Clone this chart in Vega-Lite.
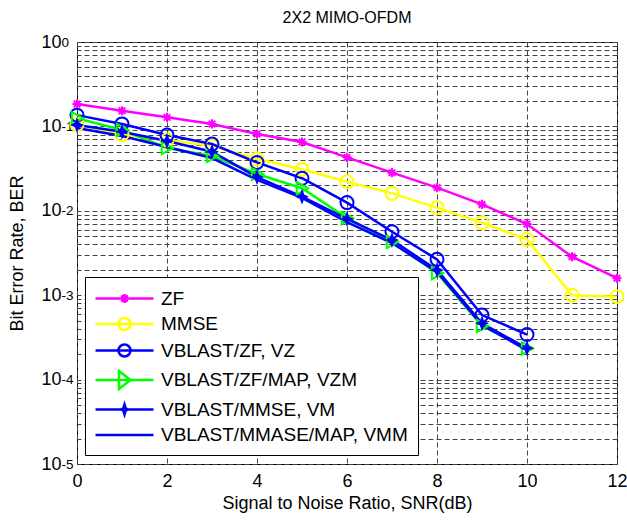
{
  "$schema": "https://vega.github.io/schema/vega-lite/v6.json",
  "width": 540,
  "height": 422,
  "autosize": "none",
  "padding": {"left": 77, "top": 42, "right": 10, "bottom": 57},
  "background": "white",
  "config": {
    "font": "Liberation Sans",
    "view": {"stroke": "black", "strokeWidth": 1},
    "axis": {"labelColor": "black", "titleColor": "black"}
  },
  "title": {"text": "2X2 MIMO-OFDM", "fontSize": 16, "fontWeight": "normal", "offset": 7, "anchor": "middle", "color": "black"},
  "data": {"values": [
    {"snr": 0, "ber": 0.184, "series": "ZF"},
    {"snr": 1, "ber": 0.153, "series": "ZF"},
    {"snr": 2, "ber": 0.128, "series": "ZF"},
    {"snr": 3, "ber": 0.107, "series": "ZF"},
    {"snr": 4, "ber": 0.0813, "series": "ZF"},
    {"snr": 5, "ber": 0.0653, "series": "ZF"},
    {"snr": 6, "ber": 0.043, "series": "ZF"},
    {"snr": 7, "ber": 0.0283, "series": "ZF"},
    {"snr": 8, "ber": 0.0188, "series": "ZF"},
    {"snr": 9, "ber": 0.0119, "series": "ZF"},
    {"snr": 10, "ber": 0.00698, "series": "ZF"},
    {"snr": 11, "ber": 0.00286, "series": "ZF"},
    {"snr": 12, "ber": 0.00159, "series": "ZF"},
    {"snr": 0, "ber": 0.105, "series": "MMSE"},
    {"snr": 1, "ber": 0.08, "series": "MMSE"},
    {"snr": 2, "ber": 0.069, "series": "MMSE"},
    {"snr": 3, "ber": 0.0586, "series": "MMSE"},
    {"snr": 4, "ber": 0.0411, "series": "MMSE"},
    {"snr": 5, "ber": 0.031, "series": "MMSE"},
    {"snr": 6, "ber": 0.0221, "series": "MMSE"},
    {"snr": 7, "ber": 0.0161, "series": "MMSE"},
    {"snr": 8, "ber": 0.0109, "series": "MMSE"},
    {"snr": 9, "ber": 0.00723, "series": "MMSE"},
    {"snr": 10, "ber": 0.00459, "series": "MMSE"},
    {"snr": 11, "ber": 0.001, "series": "MMSE"},
    {"snr": 12, "ber": 0.00096, "series": "MMSE"},
    {"snr": 0, "ber": 0.136, "series": "VBLAST/ZF, VZ"},
    {"snr": 1, "ber": 0.107, "series": "VBLAST/ZF, VZ"},
    {"snr": 2, "ber": 0.079, "series": "VBLAST/ZF, VZ"},
    {"snr": 3, "ber": 0.0618, "series": "VBLAST/ZF, VZ"},
    {"snr": 4, "ber": 0.0374, "series": "VBLAST/ZF, VZ"},
    {"snr": 5, "ber": 0.0243, "series": "VBLAST/ZF, VZ"},
    {"snr": 6, "ber": 0.0125, "series": "VBLAST/ZF, VZ"},
    {"snr": 7, "ber": 0.00565, "series": "VBLAST/ZF, VZ"},
    {"snr": 8, "ber": 0.00266, "series": "VBLAST/ZF, VZ"},
    {"snr": 9, "ber": 0.000582, "series": "VBLAST/ZF, VZ"},
    {"snr": 10, "ber": 0.000342, "series": "VBLAST/ZF, VZ"},
    {"snr": 0, "ber": 0.125, "series": "VBLAST/ZF/MAP, VZM"},
    {"snr": 1, "ber": 0.0906, "series": "VBLAST/ZF/MAP, VZM"},
    {"snr": 2, "ber": 0.0555, "series": "VBLAST/ZF/MAP, VZM"},
    {"snr": 3, "ber": 0.0446, "series": "VBLAST/ZF/MAP, VZM"},
    {"snr": 4, "ber": 0.0273, "series": "VBLAST/ZF/MAP, VZM"},
    {"snr": 5, "ber": 0.0185, "series": "VBLAST/ZF/MAP, VZM"},
    {"snr": 6, "ber": 0.0082, "series": "VBLAST/ZF/MAP, VZM"},
    {"snr": 7, "ber": 0.00427, "series": "VBLAST/ZF/MAP, VZM"},
    {"snr": 8, "ber": 0.00183, "series": "VBLAST/ZF/MAP, VZM"},
    {"snr": 9, "ber": 0.000432, "series": "VBLAST/ZF/MAP, VZM"},
    {"snr": 10, "ber": 0.000235, "series": "VBLAST/ZF/MAP, VZM"},
    {"snr": 0, "ber": 0.104, "series": "VBLAST/MMSE, VM"},
    {"snr": 1, "ber": 0.0865, "series": "VBLAST/MMSE, VM"},
    {"snr": 2, "ber": 0.0671, "series": "VBLAST/MMSE, VM"},
    {"snr": 3, "ber": 0.0501, "series": "VBLAST/MMSE, VM"},
    {"snr": 4, "ber": 0.0251, "series": "VBLAST/MMSE, VM"},
    {"snr": 5, "ber": 0.0147, "series": "VBLAST/MMSE, VM"},
    {"snr": 6, "ber": 0.008, "series": "VBLAST/MMSE, VM"},
    {"snr": 7, "ber": 0.00451, "series": "VBLAST/MMSE, VM"},
    {"snr": 8, "ber": 0.00199, "series": "VBLAST/MMSE, VM"},
    {"snr": 9, "ber": 0.000465, "series": "VBLAST/MMSE, VM"},
    {"snr": 10, "ber": 0.000235, "series": "VBLAST/MMSE, VM"},
    {"snr": 0, "ber": 0.0957, "series": "VBLAST/MMASE/MAP, VMM"},
    {"snr": 1, "ber": 0.077, "series": "VBLAST/MMASE/MAP, VMM"},
    {"snr": 2, "ber": 0.057, "series": "VBLAST/MMASE/MAP, VMM"},
    {"snr": 3, "ber": 0.0422, "series": "VBLAST/MMASE/MAP, VMM"},
    {"snr": 4, "ber": 0.0232, "series": "VBLAST/MMASE/MAP, VMM"},
    {"snr": 5, "ber": 0.0142, "series": "VBLAST/MMASE/MAP, VMM"},
    {"snr": 6, "ber": 0.00736, "series": "VBLAST/MMASE/MAP, VMM"},
    {"snr": 7, "ber": 0.00415, "series": "VBLAST/MMASE/MAP, VMM"},
    {"snr": 8, "ber": 0.00188, "series": "VBLAST/MMASE/MAP, VMM"},
    {"snr": 9, "ber": 0.000444, "series": "VBLAST/MMASE/MAP, VMM"},
    {"snr": 10, "ber": 0.000224, "series": "VBLAST/MMASE/MAP, VMM"}
  ]},
  "resolve": {
    "scale": {"shape": "independent"},
    "axis": {"y": "independent"},
    "legend": {"stroke": "independent", "shape": "independent", "fill": "independent"}
  },
  "layer": [
    {
      "mark": {"type": "line", "strokeWidth": 2.5},
      "encoding": {
        "x": {"field": "snr", "type": "quantitative", "scale": {"domain": [0, 12], "nice": false},
          "axis": {"values": [0, 2, 4, 6, 8, 10, 12], "grid": true, "gridDash": [5, 3], "gridColor": "#444", "gridOpacity": 1, "domain": false, "ticks": false, "labelPadding": 8, "labelFontSize": 18, "labelFlush": false, "title": "Signal to Noise Ratio, SNR(dB)", "titleFontSize": 18, "titleFontWeight": "normal", "titlePadding": 4}},
        "y": {"field": "ber", "type": "quantitative", "scale": {"type": "log", "domain": [0.00001, 1], "nice": false},
          "axis": {"orient": "left", "values": [0.00001, 0.0001, 0.001, 0.01, 0.1, 1], "labelExpr": "'10'", "grid": false, "ticks": false, "domain": false, "labelFontSize": 18, "labelPadding": 16, "title": "Bit Error Rate, BER", "titleFontSize": 18, "titleFontWeight": "normal", "titlePadding": 14}},
        "stroke": {"field": "series", "type": "nominal",
          "scale": {"domain": ["ZF", "MMSE", "VBLAST/ZF, VZ", "VBLAST/ZF/MAP, VZM", "VBLAST/MMSE, VM", "VBLAST/MMASE/MAP, VMM"], "range": ["#FF00FF", "#FFFF00", "#0000FF", "#00FF00", "#0000FF", "#0000FF"]},
          "legend": null}
      }
    },
    {
      "transform": [{"filter": "datum.series !== 'VBLAST/MMASE/MAP, VMM'"}],
      "mark": {"type": "point", "size": 169, "strokeWidth": 2, "opacity": 1},
      "encoding": {
        "x": {"field": "snr", "type": "quantitative"},
        "y": {"field": "ber", "type": "quantitative",
          "axis": {"orient": "left", "values": [0.00001, 0.0001, 0.001, 0.01, 0.1, 1], "labelExpr": "'' + round(log(datum.value)/LN10)", "labelAlign": "left", "labelFontSize": 13.5, "labelPadding": 16, "labelDy": -9, "grid": false, "ticks": false, "domain": false, "title": null}},
        "stroke": {"field": "series", "type": "nominal",
          "scale": {"domain": ["ZF", "MMSE", "VBLAST/ZF, VZ", "VBLAST/ZF/MAP, VZM", "VBLAST/MMSE, VM", "VBLAST/MMASE/MAP, VMM"], "range": ["#FF00FF", "#FFFF00", "#0000FF", "#00FF00", "#0000FF", "#0000FF"]},
          "legend": null},
        "fill": {"field": "series", "type": "nominal",
          "scale": {"domain": ["ZF", "MMSE", "VBLAST/ZF, VZ", "VBLAST/ZF/MAP, VZM", "VBLAST/MMSE, VM", "VBLAST/MMASE/MAP, VMM"], "range": ["transparent", "transparent", "transparent", "transparent", "#0000FF", "transparent"]},
          "legend": null},
        "shape": {"field": "series", "type": "nominal",
          "scale": {"domain": ["ZF", "MMSE", "VBLAST/ZF, VZ", "VBLAST/ZF/MAP, VZM", "VBLAST/MMSE, VM", "VBLAST/MMASE/MAP, VMM"],
            "range": ["M-0.7,0H0.7M0,-0.7V0.7M-0.5,-0.5L0.5,0.5M-0.5,0.5L0.5,-0.5", "circle", "circle", "M-0.8,-0.95L0.95,0L-0.8,0.95Z", "M0,-0.8L0.22,-0.22L0.7,0L0.22,0.22L0,0.8L-0.22,0.22L-0.7,0L-0.22,-0.22Z", "M0,0"]},
          "legend": null}
      }
    },
    {
      "mark": {"type": "point", "filled": false, "size": 400, "strokeWidth": 2.5, "opacity": 0},
      "encoding": {
        "x": {"field": "snr", "type": "quantitative"},
        "y": {"field": "ber", "type": "quantitative",
          "axis": {"orient": "right", "values": [0.00001, 0.00002, 0.00003, 0.00004, 0.00005, 0.00006, 0.00007, 0.00008, 0.00009, 0.0001, 0.0002, 0.0003, 0.0004, 0.0005, 0.0006, 0.0007, 0.0008, 0.0009, 0.001, 0.002, 0.003, 0.004, 0.005, 0.006, 0.007, 0.008, 0.009, 0.01, 0.02, 0.03, 0.04, 0.05, 0.06, 0.07, 0.08, 0.09, 0.1, 0.2, 0.3, 0.4, 0.5, 0.6, 0.7, 0.8, 0.9, 1], "labels": false, "grid": true, "gridDash": [5, 3], "gridColor": "#444", "gridOpacity": 1, "ticks": false, "domain": false, "title": null}},
        "stroke": {"field": "series", "type": "nominal",
          "scale": {"domain": ["ZF", "MMSE", "VBLAST/ZF, VZ", "VBLAST/ZF/MAP, VZM", "VBLAST/MMSE, VM", "VBLAST/MMASE/MAP, VMM"], "range": ["#FF00FF", "#FFFF00", "#0000FF", "#00FF00", "#0000FF", "#0000FF"]},
          "legend": {"title": null, "orient": "none", "legendX": 8, "legendY": 235, "direction": "vertical", "padding": 10, "fillColor": "white", "strokeColor": "black", "cornerRadius": 0, "symbolSize": 400, "symbolStrokeWidth": 2.5, "symbolOpacity": 1, "symbolOffset": 18, "labelOffset": 25, "labelFontSize": 19, "labelLimit": 400, "labelColor": "black", "rowPadding": 3.5}},
        "shape": {"field": "series", "type": "nominal",
          "scale": {"domain": ["ZF", "MMSE", "VBLAST/ZF, VZ", "VBLAST/ZF/MAP, VZM", "VBLAST/MMSE, VM", "VBLAST/MMASE/MAP, VMM"],
            "range": ["M-2.9,0H2.9M-0.45,0H0.45M0,-0.45V0.45M-0.32,-0.32L0.32,0.32M-0.32,0.32L0.32,-0.32", "M-2.9,0H2.9M0.6,0A0.6,0.6 0 1 1 -0.6,0A0.6,0.6 0 1 1 0.6,0", "M-2.9,0H2.9M0.6,0A0.6,0.6 0 1 1 -0.6,0A0.6,0.6 0 1 1 0.6,0", "M-2.9,0H2.9M-0.55,-0.9L0.6,0L-0.55,0.9Z", "M-2.9,0H2.9M0,-0.5L0.12,-0.12L0.35,0L0.12,0.12L0,0.5L-0.12,0.12L-0.35,0L-0.12,-0.12Z", "M-2.9,0H2.9"]},
          "legend": {"title": null, "orient": "none", "legendX": 8, "legendY": 235, "direction": "vertical", "padding": 10, "fillColor": "white", "strokeColor": "black", "cornerRadius": 0, "symbolSize": 400, "symbolStrokeWidth": 2.5, "symbolOpacity": 1, "symbolOffset": 18, "labelOffset": 25, "labelFontSize": 19, "labelLimit": 400, "labelColor": "black", "rowPadding": 3.5}}
      }
    }
  ]
}
